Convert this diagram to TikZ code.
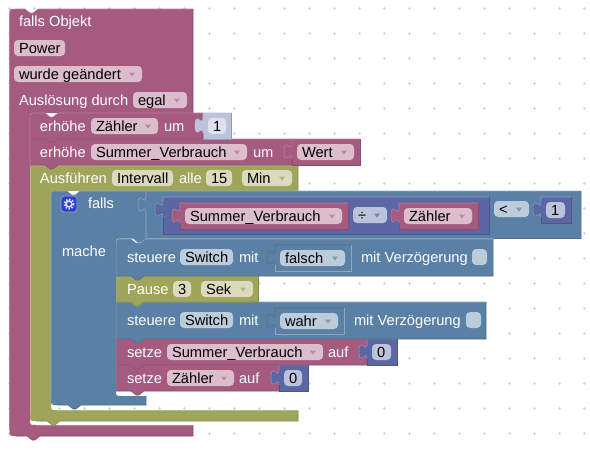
\documentclass[tikz,border=0pt]{standalone}
\usepackage{fontspec}
\setmainfont{Liberation Sans}
\definecolor{pF}{HTML}{A55B80}\definecolor{pD}{HTML}{8A4C6B}\definecolor{pL}{HTML}{B97F9C}\definecolor{pT}{HTML}{DBBDCC}\definecolor{pA}{HTML}{B98AA2}
\definecolor{gF}{HTML}{9FA55B}\definecolor{gD}{HTML}{858A4C}\definecolor{gL}{HTML}{B4B97F}\definecolor{gT}{HTML}{D9DBBD}\definecolor{gA}{HTML}{AEB388}
\definecolor{bF}{HTML}{5B80A5}\definecolor{bD}{HTML}{4C6B8A}\definecolor{bL}{HTML}{8FA8C0}\definecolor{bT}{HTML}{BDCCDB}\definecolor{bA}{HTML}{7D99B4}
\definecolor{mF}{HTML}{5B67A5}\definecolor{mD}{HTML}{4C568A}\definecolor{mL}{HTML}{8F97C0}\definecolor{mT}{HTML}{BDC2DB}
\definecolor{sF}{HTML}{BDC2DB}\definecolor{sT}{HTML}{DEE0ED}\definecolor{gear}{HTML}{2B3FD0}
\newcounter{nn}
\tikzset{
  lbl/.style={anchor=base west,inner sep=0pt,outer sep=0pt,text=white,font=\fontsize{11pt}{12pt}\selectfont},
  ftxt/.style={anchor=base west,inner sep=0pt,outer sep=0pt,text=black,font=\fontsize{11pt}{12pt}\selectfont},
  edge/.style={line width=0.4pt},
  dot/.style={draw=black!16,line width=0.4pt}
}
% white label: x, baseline y, text
\newcommand\lab[3]{\stepcounter{nn}\node[lbl] (n\thenn) at (#1,#2) {#3};}
% field: x0,x1,y0,colour,text (no arrow)
\newcommand\fld[5]{\stepcounter{nn}\fill[#4,rounded corners=3pt] (#1,#3) rectangle (#2,#3+16);\node[ftxt] (n\thenn) at (#1+5,#3+13) {#5};}
% dropdown field: x0,x1,y0,colour,text,arrow colour
\newcommand\dfld[6]{\fld{#1}{#2}{#3}{#4}{#5}\fill[#6] (#2-13,#3+6.5) -- (#2-7,#3+6.5) -- (#2-10,#3+10.5) -- cycle;}
% statement block: x0,y0,x1,y1,prefix,corner radius
\newcommand\stmtblk[6]{%
  \fill[#5F] (#1,#2+#6) .. controls (#1,#2) .. (#1+#6,#2) -- (#1+15,#2) -- ++(5,4) -- ++(3,0) -- ++(5,-4) -- (#3,#2) -- (#3,#4) -- (#1+28,#4) -- ++(-5,4) -- ++(-3,0) -- ++(-5,-4) -- (#1,#4) -- cycle;
  \draw[edge,#5D] (#3,#2) -- (#3,#4) -- (#1+28,#4) -- ++(-5,4) -- ++(-3,0) -- ++(-5,-4) -- (#1,#4);
  \draw[edge,#5L] (#1,#4) -- (#1,#2+#6) .. controls (#1,#2) .. (#1+#6,#2) -- (#1+15,#2) -- ++(5,4) -- ++(3,0) -- ++(5,-4) -- (#3,#2);}
% value block: x0,y0,x1,y1,fill,top-left colour,bottom-right colour
\newcommand\valblk[7]{%
  \fill[#5] (#1,#2) -- (#3,#2) -- (#3,#4) -- (#1,#4) -- (#1,#2+20) .. controls (#1,#2+10) and (#1-8,#2+28) .. (#1-8,#2+12.5) .. controls (#1-8,#2-3) and (#1,#2+15) .. (#1,#2+5) -- cycle;
  \draw[edge,#6] (#1,#2+20) .. controls (#1,#2+10) and (#1-8,#2+28) .. (#1-8,#2+12.5) .. controls (#1-8,#2-3) and (#1,#2+15) .. (#1,#2+5) -- (#1,#2) -- (#3,#2);
  \draw[edge,#7] (#3,#2) -- (#3,#4) -- (#1,#4) -- (#1,#2+20);}
\begin{document}
\begin{tikzpicture}[x=0.75pt,y=-0.75pt]
\useasboundingbox (0,0) rectangle (590,451);
\fill[white] (0,0) rectangle (590,451);
% workspace grid
\foreach \i in {0,...,23}{\foreach \j in {0,...,17}{
  \draw[dot] (9+25*\i-1.5,8+25*\j) -- ++(3,0) (9+25*\i,8+25*\j-1.5) -- ++(0,3);}}
% outer event block
\fill[pF] (9.5,15) .. controls (9.5,9) .. (15.5,9) -- (25,9) -- ++(5,4) -- ++(3,0) -- ++(5,-4) -- (193,9) -- (193,113) -- (36,113) .. controls (30,113) .. (30,119) -- (30,419) .. controls (30,425) .. (36,425) -- (193,425) -- (193,436) -- (40,436) -- ++(-5,4) -- ++(-3,0) -- ++(-5,-4) -- (15.5,436) .. controls (9.5,436) .. (9.5,430) -- cycle;
\draw[edge,pD] (193,9) -- (193,113) (193,425) -- (193,436) -- (40,436) -- ++(-5,4) -- ++(-3,0) -- ++(-5,-4) -- (15.5,436);
\draw[edge,pL] (9.5,430) -- (9.5,15) .. controls (9.5,9) .. (15.5,9) -- (25,9) -- ++(5,4) -- ++(3,0) -- ++(5,-4) -- (193,9);
\draw[edge,pL] (36,425) -- (193,425);
\lab{19}{26}{falls Objekt}
\fld{14}{65}{40}{pT}{Power}
\dfld{14}{142}{66}{pT}{wurde geändert}{pA}
\lab{19}{105}{Auslösung durch}
\dfld{133}{187}{92}{pT}{egal}{pA}
% Ausfuehren block
\fill[gF] (30,165) -- (298,165) -- (298,191) -- (57,191) .. controls (51,191) .. (51,197) -- (51,404) .. controls (51,410) .. (57,410) -- (298,410) -- (298,421) -- (60,421) -- ++(-5,4) -- ++(-3,0) -- ++(-5,-4) -- (36,421) .. controls (30,421) .. (30,415) -- cycle;
\draw[edge,gD] (298,165) -- (298,191) (298,410) -- (298,421) -- (60,421) -- ++(-5,4) -- ++(-3,0) -- ++(-5,-4) -- (36,421);
\draw[edge,gL] (30,415) -- (30,165) -- (298,165) (57,410) -- (298,410);
\lab{40}{183}{Ausführen}
\fld{112}{173}{170}{gT}{Intervall}
\lab{179}{183}{alle}
\fld{206}{232}{170}{gT}{15}
\dfld{242}{292}{170}{gT}{Min}{gA}
% inner statements, lowest first
\stmtblk{116}{365}{279}{391}{p}{0}
\lab{127}{383}{setze}
\dfld{167}{234}{370}{pT}{Zähler}{pA}
\lab{239}{383}{auf}
\valblk{279}{365}{308}{391}{mF}{mL}{mD}
\fld{284}{302}{370}{mT}{0}
\stmtblk{116}{339}{367}{365}{p}{0}
\lab{127}{357}{setze}
\dfld{167}{323}{344}{pT}{Summer\_Verbrauch}{pA}
\lab{328}{357}{auf}
\valblk{367}{339}{397}{365}{mF}{mL}{mD}
\fld{372}{391}{344}{mT}{0}
\stmtblk{116}{302}{486}{339}{b}{0}
\lab{127}{325}{steuere}
\fld{180}{233}{312}{bT}{Switch}
\lab{239}{325}{mit}
\valblk{275}{308}{344}{334}{bF}{bD}{bL}
\dfld{280}{338}{313}{bT}{wahr}{bA}
\lab{354}{325}{mit Verzögerung}
\fld{466}{481}{312}{bT}{}
\stmtblk{116}{276}{258.5}{302}{g}{0}
\lab{127}{294}{Pause}
\fld{173}{191}{281}{gT}{3}
\dfld{201}{253}{281}{gT}{Sek}{gA}
\stmtblk{116}{239}{493}{276}{b}{6}
\lab{127}{262}{steuere}
\fld{180}{233}{249}{bT}{Switch}
\lab{239}{262}{mit}
\valblk{275}{245}{351}{271}{bF}{bD}{bL}
\dfld{280}{345}{250}{bT}{falsch}{bA}
\lab{361}{262}{mit Verzögerung}
\fld{472}{487}{249}{bT}{}
% falls block
\fill[bF] (51,197) .. controls (51,191) .. (57,191) -- (67,191) -- ++(5,4) -- ++(3,0) -- ++(5,-4) -- (581,191) -- (581,238.5) -- (146,238.5) -- ++(-5,4) -- ++(-3,0) -- ++(-5,-4) -- (122,238.5) .. controls (116,238.5) .. (116,244.5) -- (116,390) .. controls (116,396) .. (122,396) -- (146,396) -- (146,405) -- (81,405) -- ++(-5,4) -- ++(-3,0) -- ++(-5,-4) -- (57,405) .. controls (51,405) .. (51,399) -- cycle;
\draw[edge,bD] (581,191) -- (581,238.5) -- (493,238.5) (146,396) -- (146,405) -- (81,405) -- ++(-5,4) -- ++(-3,0) -- ++(-5,-4) -- (57,405);
\draw[edge,bL] (51,399) -- (51,197) .. controls (51,191) .. (57,191) -- (67,191) -- ++(5,4) -- ++(3,0) -- ++(5,-4) -- (581,191);
\draw[edge,bL] (146,238.5) -- ++(-5,4) -- ++(-3,0) -- ++(-5,-4) -- (122,238.5) .. controls (116,238.5) .. (116,244.5);
\draw[edge,bL] (146,238) -- (146,212) .. controls (146,202) and (138,220) .. (138,204.5) .. controls (138,189) and (146,207) .. (146,197) -- (146,191);
% gear icon
\fill[gear,rounded corners=2.5pt,draw=bL,line width=0.5pt] (61,196) rectangle (77,212);
\draw[white!85!gear,line width=1.1pt] (69,204) circle[radius=2.9];
\draw[white!85!gear,line width=1.5pt,dash pattern=on 1.1pt off 1.17pt] (69,204) circle[radius=4.6];
\lab{88}{208}{falls}
\lab{62}{256}{mache}
% condition
\valblk{163}{197}{489}{234}{mF}{mL}{mD}
\valblk{180}{203}{348}{229}{pF}{pL}{pD}
\dfld{185}{342}{208}{pT}{Summer\_Verbrauch}{pA}
\fill[mT,rounded corners=3pt] (353,207) rectangle (387,223);
\node[ftxt] (divop) at (358,220) {÷};
\fill[mF!70!mT] (374,213.5) -- (380,213.5) -- (377,217.5) -- cycle;
\valblk{399}{203}{478}{229}{pF}{pL}{pD}
\dfld{404}{472}{208}{pT}{Zähler}{pA}
\dfld{494}{529}{201}{bT}{<}{bA}
\valblk{541}{197}{571}{223}{mF}{mL}{mD}
\fld{546}{565}{202}{mT}{1}
% stacked top statements
\stmtblk{30}{139}{292}{165}{p}{0}
\lab{40}{157}{erhöhe}
\dfld{91}{247}{144}{pT}{Summer\_Verbrauch}{pA}
\lab{253}{157}{um}
\valblk{292}{139}{360}{165}{pF}{pL}{pD}
\dfld{297}{354}{144}{pT}{Wert}{pA}
\stmtblk{30}{113}{203}{139}{p}{6}
\lab{40}{131}{erhöhe}
\dfld{91}{158}{118}{pT}{Zähler}{pA}
\lab{164}{131}{um}
\valblk{203}{113}{231.5}{139}{sF}{sF}{mL}
\fld{208}{226}{118}{sT}{1}
\end{tikzpicture}
\end{document}
